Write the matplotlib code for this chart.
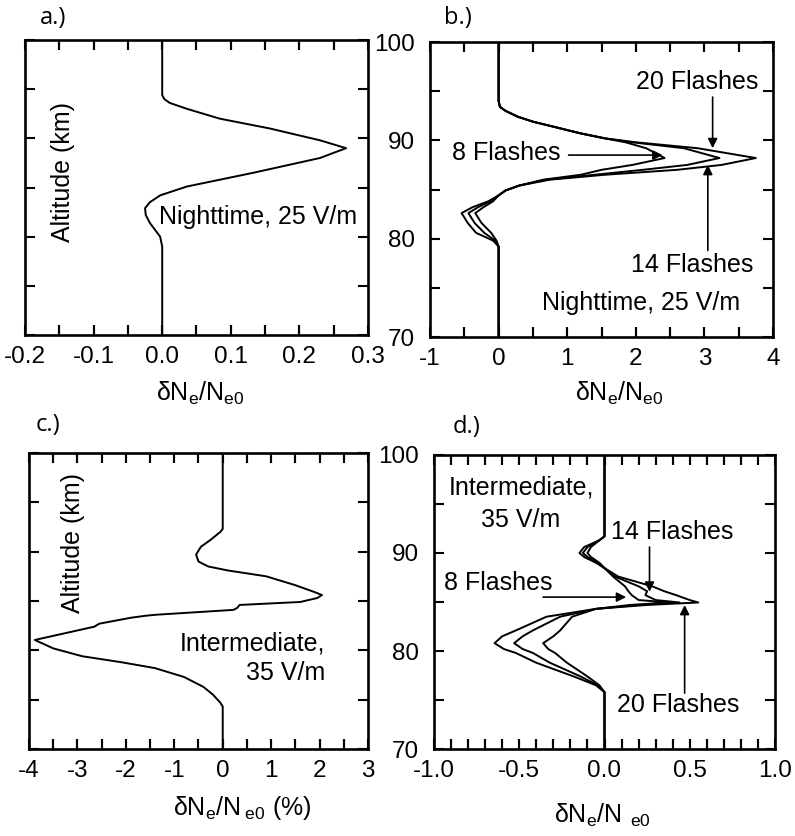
"""Electron density perturbation profiles vs altitude, four panels"""

import numpy as np
import matplotlib.pyplot as plt

plt.rcParams['font.family'] = ['Liberation Sans', 'DejaVu Sans']
plt.rcParams['axes.unicode_minus'] = False
plt.rcParams['mathtext.fontset'] = 'custom'
plt.rcParams['mathtext.rm'] = 'Liberation Sans'
plt.rcParams['mathtext.default'] = 'rm'
plt.rcParams['xtick.direction'] = 'in'
plt.rcParams['ytick.direction'] = 'in'
plt.rcParams['xtick.top'] = True
plt.rcParams['ytick.right'] = True
for k in ('xtick', 'ytick'):
    plt.rcParams[k + '.major.size'] = 7
    plt.rcParams[k + '.minor.size'] = 7
    plt.rcParams[k + '.major.width'] = 1.5
    plt.rcParams[k + '.minor.width'] = 1.5
    plt.rcParams[k + '.labelsize'] = 17.5
plt.rcParams['xtick.major.pad'] = 8
plt.rcParams['ytick.major.pad'] = 11
plt.rcParams['axes.linewidth'] = 1.9

# a.) nighttime, 25 V/m, single flash
alt_a = [100, 94.4, 94.0, 93.6, 93.0, 92.0, 91.0, 89.8, 89.0, 88.0, 86.5, 85.1,
         84.2, 83.5, 82.9, 82.2, 81.4, 80.0, 79.0, 70]
dne_a = [0, 0, 0.003, 0.011, 0.036, 0.084, 0.157, 0.23, 0.268, 0.23, 0.133, 0.036,
         -0.003, -0.018, -0.025, -0.024, -0.018, -0.003, 0, 0]

# b.) nighttime, 25 V/m, 8 / 14 / 20 flashes
alt_b = [100, 94.0, 93.4, 93.0, 92.4, 91.9, 91.3, 90.7, 90.2, 89.8, 89.2, 88.2,
         87.5, 87.0, 86.5, 86.0, 85.4, 84.9, 84.4, 83.8, 83.2, 82.6, 81.6, 80.6,
         79.8, 79.2, 70]
dne_b8 = [0, 0, 0.02, 0.1, 0.28, 0.5, 0.85, 1.2, 1.55, 1.85, 2.15, 2.42,
          1.95, 1.5, 1.2, 0.65, 0.3, 0.1, 0, -0.08, -0.22, -0.34, -0.25, -0.11,
          -0.03, 0, 0]
dne_b14 = [0, 0, 0.02, 0.1, 0.28, 0.5, 0.85, 1.2, 1.55, 1.95, 2.7, 3.22,
           2.75, 2.1, 1.4, 0.7, 0.3, 0.1, 0, -0.12, -0.3, -0.44, -0.35, -0.21,
           -0.05, 0, 0]
dne_b20 = [0, 0, 0.02, 0.1, 0.28, 0.5, 0.85, 1.2, 1.55, 2.0, 2.9, 3.75,
           3.25, 2.6, 1.55, 0.75, 0.3, 0.1, 0, -0.15, -0.38, -0.54, -0.45, -0.33,
           -0.08, 0, 0]

# c.) intermediate, 35 V/m, single flash (percent)
alt_c = [100, 92.3, 92.0, 91.2, 90.5, 89.7, 89.0, 88.5, 88.1, 87.5, 86.9, 86.6,
         85.9, 85.6, 85.3, 84.9, 84.6, 84.3, 84.1, 83.6, 83.5, 83.3, 82.7, 82.4,
         81.05, 80.2, 79.4, 78.8, 78.2, 77.3, 76.3, 75.5, 74.7, 74.3, 70]
dne_c = [0, 0, -0.05, -0.25, -0.45, -0.55, -0.5, -0.3, 0.1, 0.9, 1.3, 1.5,
         1.9, 2.05, 1.95, 1.6, 0.35, 0.3, 0.22, -1.4, -1.6, -1.9, -2.55, -2.65,
         -3.88, -3.5, -2.9, -2.1, -1.4, -0.8, -0.4, -0.2, -0.05, 0, 0]

# d.) intermediate, 35 V/m, 8 / 14 / 20 flashes
alt_d = [100, 91.7, 91.3, 90.6, 90.0, 89.6, 89.0, 87.6, 86.6, 86.1, 85.7, 85.2,
         84.95, 84.7, 84.3, 83.5, 82.1, 81.5, 80.8, 80.2, 79.8, 78.8, 77.4, 76.5,
         75.8, 70]
dne_d8 = [0, 0, -0.03, -0.08, -0.1, -0.08, -0.03, 0.05, 0.12, 0.14, 0.16, 0.2,
          0.38, 0.15, -0.05, -0.19, -0.26, -0.3, -0.36, -0.33, -0.29, -0.22, -0.10, -0.03,
          0, 0]
dne_d14 = [0, 0, -0.03, -0.1, -0.127, -0.1, -0.04, 0.06, 0.2, 0.25, 0.24, 0.3,
           0.44, 0.2, -0.05, -0.26, -0.42, -0.48, -0.53, -0.48, -0.42, -0.32, -0.14, -0.04,
           0, 0]
dne_d20 = [0, 0, -0.03, -0.12, -0.147, -0.12, -0.05, 0.08, 0.28, 0.35, 0.42, 0.5,
           0.55, 0.25, -0.05, -0.34, -0.52, -0.6, -0.645, -0.59, -0.52, -0.40, -0.18, -0.05,
           0, 0]

W, H = 795, 836
fig = plt.figure(figsize=(W / 100, H / 100), dpi=100)


def px_axes(left, top, right, bottom):
    ax = fig.add_axes([left / W, 1 - bottom / H, (right - left) / W, (bottom - top) / H])
    ax.height_px = bottom - top
    return ax


def style(ax, xlim, xmajor, xlabels, xminor, ylabels):
    ax.set_xlim(*xlim)
    ax.set_ylim(70, 100)
    ax.set_xticks(xmajor, xlabels)
    xt = np.arange(xlim[0], xlim[1] + 1e-9, xminor)
    ax.set_xticks(xt, minor=True)
    ax.set_yticks([70, 80, 90, 100])
    ax.set_yticks([75, 85, 95], minor=True)
    if not ylabels:
        ax.tick_params(axis='y', labelleft=False)
    # inward tick marks along bottom and top edges
    f = 7 * 100 / 72 / ax.height_px
    tr = ax.get_xaxis_transform()
    for x in xt[1:-1]:
        for y0, y1 in ((0, f), (1 - f, 1)):
            ax.plot([x, x], [y0, y1], transform=tr, color='k', lw=1.5,
                    solid_capstyle='butt', clip_on=False, zorder=5)
    ax.set_xlim(*xlim)
    ax.set_ylim(70, 100)


kw = dict(color='k', lw=1.4)
arrow = dict(arrowstyle='-|>', color='k', lw=1.2, mutation_scale=14, shrinkA=0, shrinkB=0)
tsize = 18

# a.)
ax = px_axes(25, 40, 368, 335)
ax.plot(dne_a, alt_a, **kw)
style(ax, (-0.2, 0.3), [-0.2, -0.1, 0, 0.1, 0.2, 0.3],
      ['-0.2', '-0.1', '0.0', '0.1', '0.2', '0.3'], 0.05, False)
ax.text(-0.145, 86.6, 'Altitude (km)', rotation=90, ha='center', va='center', fontsize=tsize)
ax.text(-0.004, 82.0, 'Nighttime, 25 V/m', ha='left', va='center', fontsize=tsize)

# b.)
ax = px_axes(430, 42, 773, 337)
for dne in (dne_b8, dne_b14, dne_b20):
    ax.plot(dne, alt_b, **kw)
style(ax, (-1, 4), [-1, 0, 1, 2, 3, 4], ['-1', '0', '1', '2', '3', '4'], 0.5, True)
ax.annotate('', xy=(2.39, 88.5), xytext=(1.02, 88.5), arrowprops=arrow)
ax.text(-0.68, 88.7, '8 Flashes', ha='left', va='center', fontsize=tsize)
ax.annotate('', xy=(3.12, 89.2), xytext=(3.12, 94.4), arrowprops=arrow)
ax.text(2.9, 95.9, '20 Flashes', ha='center', va='center', fontsize=tsize)
ax.annotate('', xy=(3.05, 87.5), xytext=(3.05, 78.8), arrowprops=arrow)
ax.text(2.82, 77.3, '14 Flashes', ha='center', va='center', fontsize=tsize)
ax.text(2.08, 73.5, 'Nighttime, 25 V/m', ha='center', va='center', fontsize=tsize)

# c.)
ax = px_axes(29, 453, 368, 749)
ax.plot(dne_c, alt_c, **kw)
style(ax, (-4, 3), list(range(-4, 4)), [str(v) for v in range(-4, 4)], 0.5, False)
ax.text(-3.1, 90.9, 'Altitude (km)', rotation=90, ha='center', va='center', fontsize=tsize)
ax.text(2.12, 79.2, 'Intermediate,\n35 V/m', ha='right', va='center',
        multialignment='right', linespacing=1.25, fontsize=tsize)

# d.)
ax = px_axes(434, 455, 775, 749)
for dne in (dne_d8, dne_d14, dne_d20):
    ax.plot(dne, alt_d, **kw)
style(ax, (-1, 1), [-1, -0.5, 0, 0.5, 1],
      ['-1.0', '-0.5', '0.0', '0.5', '1.0'], 0.1, True)
ax.text(-0.49, 95.0, 'Intermediate,\n35 V/m', ha='center', va='center',
        multialignment='center', linespacing=1.45, fontsize=tsize)
ax.annotate('', xy=(0.264, 86.05), xytext=(0.264, 90.6), arrowprops=arrow)
ax.text(0.04, 92.1, '14 Flashes', ha='left', va='center', fontsize=tsize)
ax.annotate('', xy=(0.127, 85.5), xytext=(-0.36, 85.5), arrowprops=arrow)
ax.text(-0.94, 86.9, '8 Flashes', ha='left', va='center', fontsize=tsize)
ax.annotate('', xy=(0.47, 84.7), xytext=(0.47, 75.7), arrowprops=arrow)
ax.text(0.434, 74.5, '20 Flashes', ha='center', va='center', fontsize=tsize)

# axis titles below each panel
xl = r'$\delta N_e/N_{e0}$'
fig.text(200 / W, 1 - 393 / H, xl, ha='center', va='center', fontsize=tsize)
fig.text(619 / W, 1 - 393 / H, xl, ha='center', va='center', fontsize=tsize)
fig.text(242 / W, 1 - 808 / H, r'$\delta N_e/N\,_{e0}$ (%)', ha='center', va='center', fontsize=tsize)
fig.text(602 / W, 1 - 815 / H, r'$\delta N_e/N\ _{e0}$', ha='center', va='center', fontsize=tsize)

# panel letters
for lab, x, y in (('a.)', 53, 18), ('b.)', 458, 18), ('c.)', 48, 425), ('d.)', 466, 427)):
    fig.text(x / W, 1 - y / H, lab, ha='center', va='center',
             fontsize=17, family=['Open Sans', 'DejaVu Sans'])

plt.savefig('out.png', dpi=100)
